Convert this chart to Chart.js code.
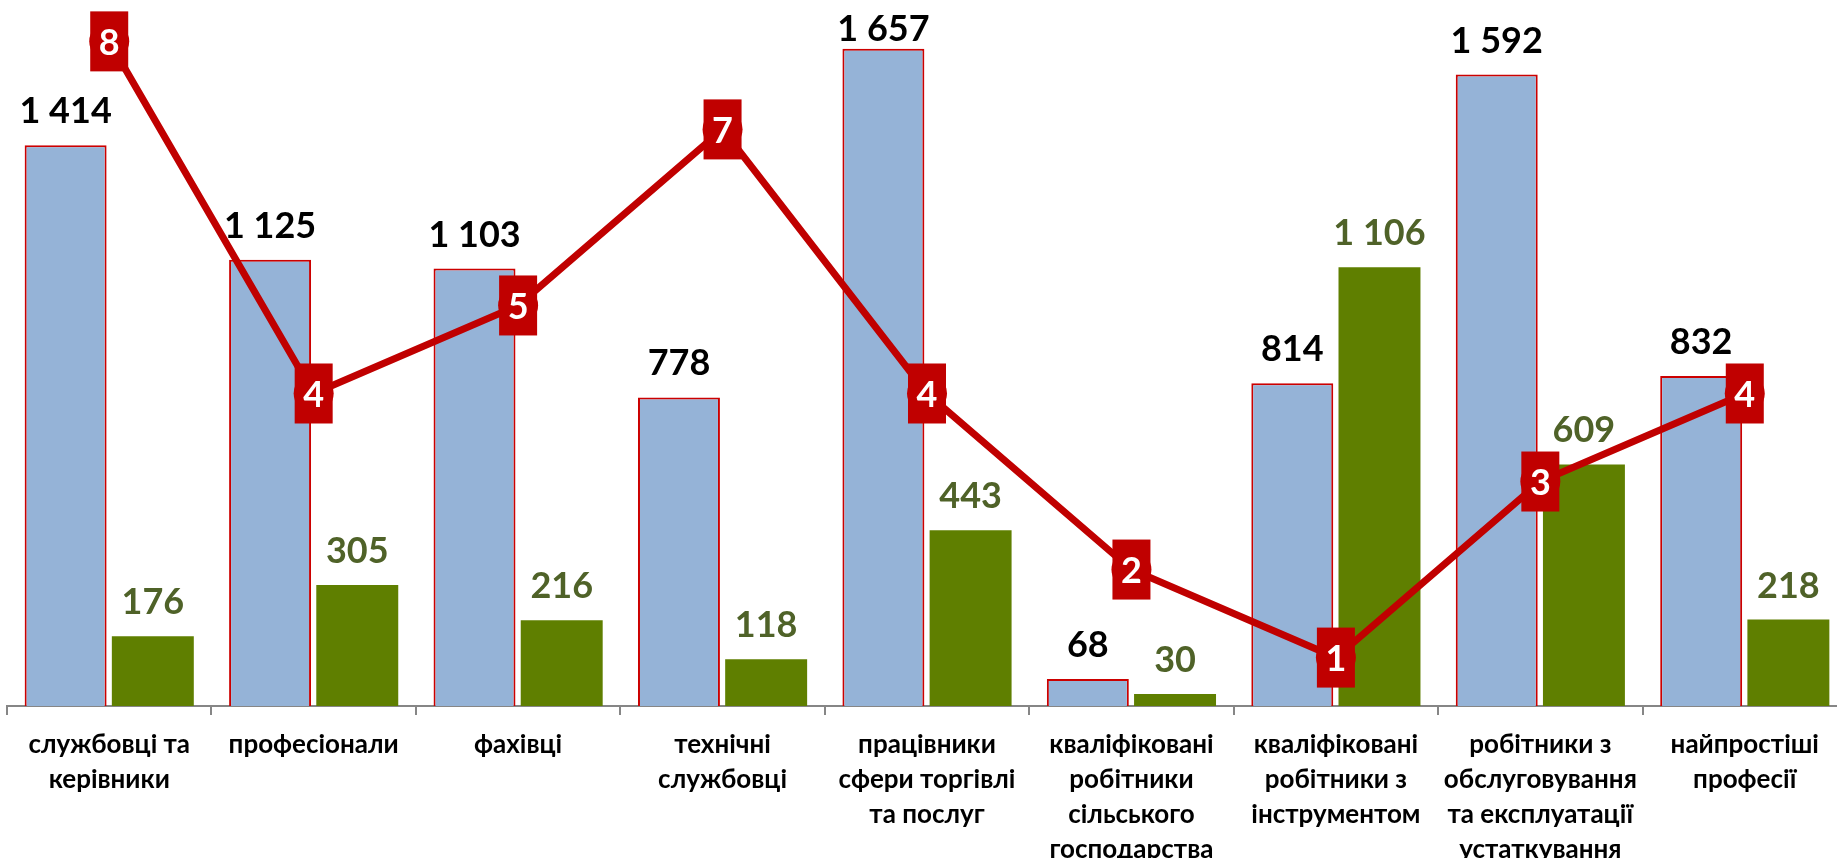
<!DOCTYPE html>
<html>
<head>
<meta charset="utf-8">
<script src="https://cdn.jsdelivr.net/npm/chart.js@4.4.1/dist/chart.umd.min.js"></script>
<style>
  html, body { margin: 0; padding: 0; background: #fff; overflow: hidden; }
  #wrap { width: 1837px; height: 858px; overflow: hidden; }
  canvas { display: block; }
</style>
</head>
<body>
<div id="wrap"><canvas id="chart" width="1847" height="858"></canvas></div>
<script>
const categories = [
    ['службовці та', 'керівники'],
    ['професіонали'],
    ['фахівці'],
    ['технічні', 'службовці'],
    ['працівники', 'сфери торгівлі', 'та послуг'],
    ['кваліфіковані', 'робітники', 'сільського', 'господарства'],
    ['кваліфіковані', 'робітники з', 'інструментом'],
    ['робітники з', 'обслуговування', 'та експлуатації', 'устаткування'],
    ['найпростіші', 'професії']
];
const blueValues = [1414, 1125, 1103, 778, 1657, 68, 814, 1592, 832];
const greenValues = [176, 305, 216, 118, 443, 30, 1106, 609, 218];
const rankValues = [8, 4, 5, 7, 4, 2, 1, 3, 4];

const RED = '#C00000';
const FONT = 'Lato, "Noto Sans", sans-serif';

function fmt(v) {
    return String(v).replace(/\B(?=(\d{3})+(?!\d))/g, ' ');
}

// value labels above the bars, red boxes with the rank on the line
const labelPlugin = {
    id: 'labels',
    afterDatasetsDraw(chart) {
        const ctx = chart.ctx;
        ctx.save();
        ctx.font = 'bold 36px ' + FONT;
        ctx.textAlign = 'center';
        ctx.textBaseline = 'alphabetic';
        [0, 1].forEach(i => {
            const meta = chart.getDatasetMeta(i);
            const ds = chart.data.datasets[i];
            ctx.fillStyle = i === 0 ? '#000000' : '#4F6228';
            meta.data.forEach((bar, j) => {
                // keep the label inside the plot like Excel does
                const y = Math.max(bar.y - 22, 41);
                ctx.fillText(fmt(ds.data[j]), bar.x, y);
            });
        });
        const lineMeta = chart.getDatasetMeta(2);
        ctx.textBaseline = 'middle';
        lineMeta.data.forEach((pt, j) => {
            ctx.fillStyle = RED;
            ctx.fillRect(pt.x - 19, pt.y - 30, 38, 60);
            ctx.fillStyle = '#ffffff';
            ctx.fillText(String(rankValues[j]), pt.x, pt.y + 2);
        });
        ctx.restore();
    }
};

chart = new Chart(document.getElementById('chart').getContext('2d'), {
    data: {
        labels: categories,
        datasets: [{
            type: 'bar',
            data: blueValues,
            backgroundColor: '#95B3D7',
            borderColor: '#CC0000',
            borderWidth: 2,
            yAxisID: 'y',
            order: 2,
            categoryPercentage: 0.853,
            barPercentage: 0.94
        }, {
            type: 'bar',
            data: greenValues,
            backgroundColor: '#5F7F00',
            borderWidth: 0,
            yAxisID: 'y',
            order: 2,
            categoryPercentage: 0.853,
            barPercentage: 0.94
        }, {
            type: 'line',
            data: rankValues,
            borderColor: RED,
            borderWidth: 7,
            pointRadius: 20,
            pointBackgroundColor: RED,
            pointBorderWidth: 0,
            yAxisID: 'y2',
            order: 1,
            tension: 0
        }]
    },
    options: {
        responsive: false,
        animation: false,
        devicePixelRatio: 1,
        layout: { autoPadding: false, padding: { left: 7, right: 0, top: 0, bottom: 0 } },
        plugins: { legend: { display: false }, tooltip: { enabled: false } },
        scales: {
            x: {
                offset: true,
                grid: {
                    offset: true,
                    drawOnChartArea: false,
                    drawTicks: true,
                    tickLength: 9,
                    color: '#868686',
                    lineWidth: 2
                },
                border: { color: '#868686', width: 2 },
                ticks: {
                    autoSkip: false,
                    maxRotation: 0,
                    minRotation: 0,
                    padding: 12,
                    color: '#000000',
                    font: { family: FONT, size: 26, weight: 'bold', lineHeight: 1.35 }
                },
                afterFit(scale) { scale.height = 152; }
            },
            y: { display: false, min: 0, max: 1780 },
            y2: { display: false, min: 0.45, max: 8.47, position: 'right' }
        }
    },
    plugins: [labelPlugin]
});
</script>
</body>
</html>
